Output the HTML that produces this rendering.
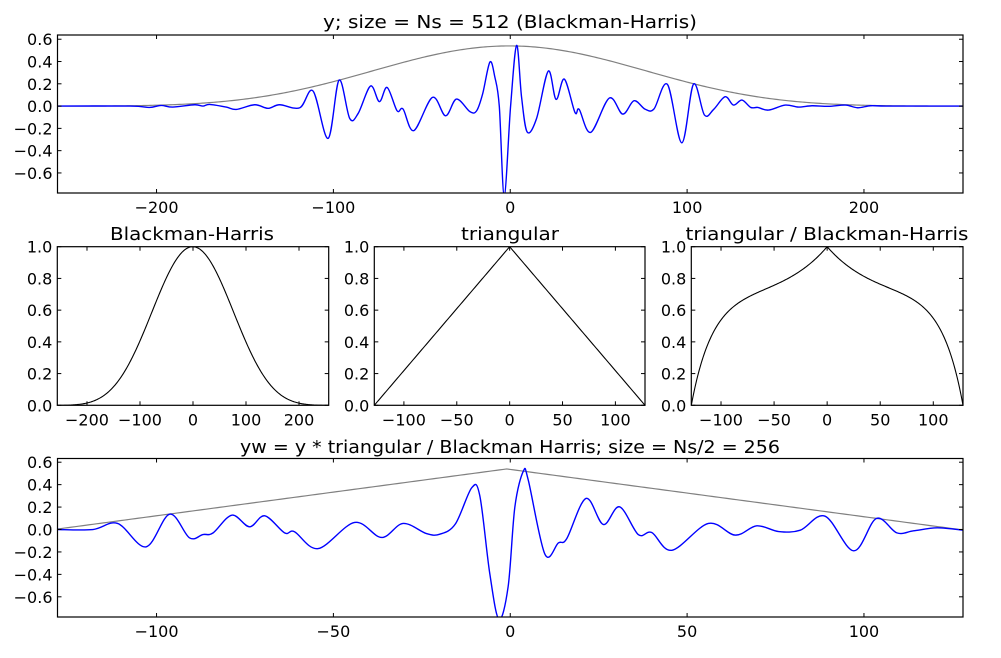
<!DOCTYPE html>
<html><head><meta charset="utf-8">
<style>
html,body{margin:0;padding:0;background:#fff;}
svg{display:block;font-family:"DejaVu Sans","Liberation Sans",sans-serif;}
.tk{font-size:16px;fill:#000;}
.tt{font-size:18px;fill:#000;}
</style></head>
<body>
<svg id="fig" width="1001" height="658" viewBox="0 0 1001 658" xmlns="http://www.w3.org/2000/svg">
<rect width="1001" height="658" fill="#fff"/>
</svg>
<script>
// ---- data ----
const topX = [-256,-215,-204,-197.4,-190.8,-178.5,-173.8,-170,-160.6,-154.9,-144.5,-137,-130.4,-119,-111.5,-103,-96.8,-90.8,-86,-79,-74,-69.6,-64,-60.6,-54.5,-44,-36.6,-30.4,-22.8,-19,-15.6,-11.5,-8.7,-6.2,-3.4,0.2,3.6,6.4,9.6,14.9,21.5,25.9,30.6,36.6,39,45.5,56,63.6,70,76.2,81.3,88.9,97,103.6,109.8,115,121.5,126.2,131,136,140,146,155.5,163,170.6,180,189.5,196.4,203.6,211,220,256];
const topY = [0,0,-0.012,0.006,-0.009,0.012,0,0.015,-0.009,-0.03,0.012,-0.02,0.012,-0.015,0.135,-0.29,0.233,-0.11,-0.066,0.18,0.04,0.167,-0.042,-0.027,-0.22,0.078,-0.087,0.063,-0.05,-0.042,0.11,0.395,0.26,0,-0.8,0,0.545,0.08,-0.233,-0.11,0.314,0.06,0.242,-0.057,-0.03,-0.236,0.072,-0.072,0.048,-0.027,-0.025,0.194,-0.33,0.197,-0.08,-0.03,0.084,0.009,0.054,-0.012,-0.012,-0.036,0.009,-0.009,0.003,-0.002,0.009,-0.015,0.003,0,0,0];
const botX = [-128,-118,-111,-103,-96.3,-90.7,-86.9,-84,-78.7,-73.7,-69.4,-63.8,-61,-54.3,-44,-36.4,-30.3,-23.7,-19.9,-15.5,-10.9,-8.6,-5.8,-3.2,-0.6,1.3,3.7,5.1,9.8,13.6,16,21.4,26.3,30.9,36.2,40,45.7,56,63.6,69.7,75.9,82,89,97.1,103.5,109.3,114,120.7,128];
const botY = [0,0,0.054,-0.155,0.137,-0.074,-0.045,-0.03,0.128,0.024,0.122,-0.03,-0.02,-0.17,0.063,-0.071,0.054,-0.036,-0.042,0.05,0.372,0.3,-0.39,-0.8,-0.51,0.2,0.52,0.44,-0.22,-0.12,-0.08,0.277,0.045,0.202,-0.045,-0.027,-0.185,0.054,-0.05,0.033,-0.018,-0.006,0.119,-0.19,0.098,-0.03,-0.012,0.015,-0.006];
const envAmp = [0.54];            // envelope peak amplitude
const bhCoef = [0.35875,0.48829,0.14128,0.01168]; // Blackman-Harris coefficients
const Ns = [512];
const ticksTopX = [-200,-100,0,100,200];
const ticksSigY = [-0.6,-0.4,-0.2,0.0,0.2,0.4,0.6];
const ticksBotX = [-100,-50,0,50,100];
const ticksWinY = [0.0,0.2,0.4,0.6,0.8,1.0];
const ticksBH = [-200,-100,0,100,200];
const ticksTri = [-100,-50,0,50,100];

// ---- helpers ----
const NS='http://www.w3.org/2000/svg';
const svg=document.getElementById('fig');
function mk(tag,attrs,parent){const e=document.createElementNS(NS,tag);for(const k in attrs)e.setAttribute(k,attrs[k]);(parent||svg).appendChild(e);return e;}
function bh(x){const N=Ns[0];const n=x+N/2;const p=2*Math.PI*n/(N-1);
  const v=bhCoef[0]-bhCoef[1]*Math.cos(p)+bhCoef[2]*Math.cos(2*p)-bhCoef[3]*Math.cos(3*p);return Math.max(0,v);}
function tri(x){return Math.max(0,1-Math.abs(x)/128);}
function fmt(v,d){const s=Math.abs(v).toFixed(d);return (v<-1e-9?'\u2212':'')+s;}

function axes(name,L,R,T,B,x0,x1,y0,y1,xt,yt,xd,yd){
  const g=mk('g',{});
  
  
  const sx=v=>L+(v-x0)/(x1-x0)*(R-L), sy=v=>B-(v-y0)/(y1-y0)*(B-T);
  const cid='clip-'+name;
  const cp=mk('clipPath',{id:cid},g);mk('rect',{x:L,y:T,width:R-L,height:B-T},cp);
  const plot=mk('g',{'clip-path':'url(#'+cid+')'},g);
  xt.forEach(v=>{const x=sx(v);
    const t=mk('line',{x1:x,x2:x,y1:B,y2:B-4,stroke:'#000','stroke-width':1},g);
    
    mk('line',{x1:x,x2:x,y1:T,y2:T+4,stroke:'#000','stroke-width':1},g);
    const l=mk('text',{x:x,y:B+20,'text-anchor':'middle',class:'tk'},g);l.textContent=fmt(v,xd);
    });
  yt.forEach(v=>{const y=sy(v);
    const t=mk('line',{x1:L,x2:L+4,y1:y,y2:y,stroke:'#000','stroke-width':1},g);
    
    mk('line',{x1:R,x2:R-4,y1:y,y2:y,stroke:'#000','stroke-width':1},g);
    const l=mk('text',{x:L-5,y:y+6,'text-anchor':'end',class:'tk'},g);l.textContent=fmt(v,yd);
    });
  const fr=mk('rect',{x:L,y:T,width:R-L,height:B-T,fill:'none',stroke:'#000','stroke-width':1.2},g);
  
  return {g,plot,sx,sy};
}
function title(txt,x,y,len,name){const t=mk('text',{x:x,y:y,'text-anchor':'middle',class:'tt',textLength:len,lengthAdjust:'spacingAndGlyphs'});t.textContent=txt;
  }
function fnPath(ax,f,a,b,n){let d='';for(let i=0;i<=n;i++){const x=a+(b-a)*i/n;d+=(i?'L':'M')+ax.sx(x).toFixed(2)+','+ax.sy(f(x)).toFixed(2);}return d;}
function splinePath(ax,xs,ys){const P=xs.map((x,i)=>[ax.sx(x),ax.sy(ys[i])]);let d='M'+P[0][0]+','+P[0][1];
  for(let i=0;i<P.length-1;i++){const p0=P[Math.max(0,i-1)],p1=P[i],p2=P[i+1],p3=P[Math.min(P.length-1,i+2)];
    const c1=[p1[0]+(p2[0]-p0[0])/6,p1[1]+(p2[1]-p0[1])/6],c2=[p2[0]-(p3[0]-p1[0])/6,p2[1]-(p3[1]-p1[1])/6];
    d+='C'+c1[0].toFixed(2)+','+c1[1].toFixed(2)+' '+c2[0].toFixed(2)+','+c2[1].toFixed(2)+' '+p2[0].toFixed(2)+','+p2[1].toFixed(2);}
  return d;}

// ---- top panel ----
const a1=axes('signal-axes',57.5,963,35,193,-256,256,-0.78,0.638,ticksTopX,ticksSigY,0,1);
title('y; size = Ns = 512 (Blackman-Harris)',510,28,374,'signal-title');
let p=mk('path',{d:fnPath(a1,x=>envAmp[0]*bh(x),-256,256,400),fill:'none',stroke:'#808080','stroke-width':1.2},a1.plot);

p=mk('path',{d:splinePath(a1,topX,topY),fill:'none',stroke:'#0000ff','stroke-width':1.4},a1.plot);


// ---- middle panels ----
const a2=axes('bh-axes',57.3,328.7,246.7,405.3,-256,256,0,1,ticksBH,ticksWinY,0,1);
title('Blackman-Harris',192,240,164,'bh-title');
p=mk('path',{d:fnPath(a2,bh,-256,256,300),fill:'none',stroke:'#000','stroke-width':1.1},a2.plot);


const a3=axes('tri-axes',374.3,645,246.7,405.3,-128,128,0,1,ticksTri,ticksWinY,0,1);
title('triangular',510,240,98,'tri-title');
p=mk('path',{d:fnPath(a3,tri,-128,128,256),fill:'none',stroke:'#000','stroke-width':1.1},a3.plot);


const a4=axes('ratio-axes',691.3,963,246.7,405.3,-128,128,0,1,ticksTri,ticksWinY,0,1);
title('triangular / Blackman-Harris',827,240,283,'ratio-title');
p=mk('path',{d:fnPath(a4,x=>tri(x)/bh(x),-128,128,300),fill:'none',stroke:'#000','stroke-width':1.1},a4.plot);


// ---- bottom panel ----
const a5=axes('windowed-axes',57.5,963,458.5,617,-128,128,-0.78,0.633,ticksBotX,ticksSigY,0,1);
title('yw = y * triangular / Blackman Harris; size = Ns/2 = 256',510,453,540,'windowed-title');
p=mk('path',{d:fnPath(a5,x=>envAmp[0]*tri(x+1),-128,128,256),fill:'none',stroke:'#808080','stroke-width':1.2},a5.plot);

p=mk('path',{d:splinePath(a5,botX,botY),fill:'none',stroke:'#0000ff','stroke-width':1.4},a5.plot);

</script>
</body></html>
